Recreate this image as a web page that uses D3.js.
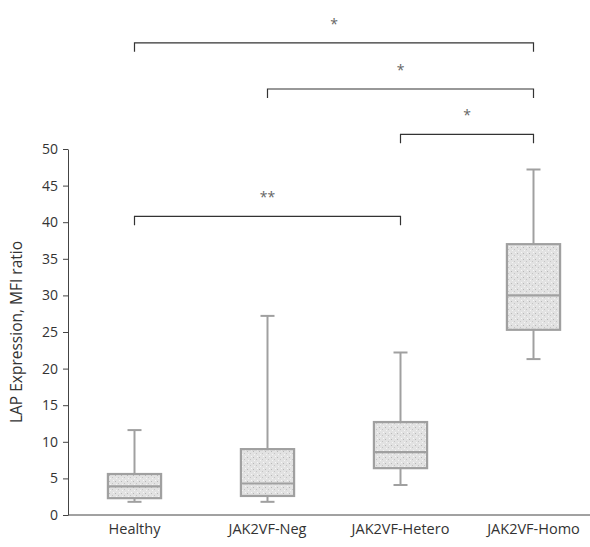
<!DOCTYPE html>
<html>
<head>
<meta charset="utf-8">
<script src="https://cdn.jsdelivr.net/npm/d3@7"></script>
<style>
  body { margin: 0; background: #fff; }
  text { font-family: "Open Sans", "Liberation Sans", sans-serif; }
</style>
</head>
<body>
<script>
// groups and box stats
var groups = ["Healthy", "JAK2VF-Neg", "JAK2VF-Hetero", "JAK2VF-Homo"];
var mins    = [1.8, 1.8, 4.1, 21.3];
var q1s     = [2.3, 2.6, 6.4, 25.3];
var medians = [3.9, 4.3, 8.6, 30.0];
var q3s     = [5.6, 9.0, 12.7, 37.0];
var maxs    = [11.6, 27.2, 22.2, 47.2];
var yTicks  = [0, 5, 10, 15, 20, 25, 30, 35, 40, 45, 50];

// significance brackets: [from group, to group, label, level in data units]
var sigFrom   = [0, 1, 2, 0];
var sigTo     = [3, 3, 3, 2];
var sigLabel  = ["*", "*", "*", "**"];
var sigLevel  = [64.5, 58.2, 52.0, 40.8];

var width = 590, height = 547;

var svg = d3.select("body")
    .append("svg")
    .attr("width", width)
    .attr("height", height);

// light stipple for the boxes
var pat = svg.append("defs").append("pattern")
    .attr("id", "stipple")
    .attr("patternUnits", "userSpaceOnUse")
    .attr("width", 6)
    .attr("height", 6);
pat.append("rect").attr("width", 6).attr("height", 6).attr("fill", "#e2e2e2");
pat.append("rect").attr("x", 1).attr("y", 1).attr("width", 1).attr("height", 1).attr("fill", "#b8b8b8");
pat.append("rect").attr("x", 4).attr("y", 3).attr("width", 1).attr("height", 1).attr("fill", "#c4c4c4");
pat.append("rect").attr("x", 2).attr("y", 4).attr("width", 1).attr("height", 1).attr("fill", "#f4f4f4");
pat.append("rect").attr("x", 5).attr("y", 0).attr("width", 1).attr("height", 1).attr("fill", "#f6f6f6");

var x = d3.scaleBand()
    .domain(groups)
    .range([68, 600])
    .paddingInner(0.6)
    .paddingOuter(0.3);

var y = d3.scaleLinear()
    .domain([0, 50])
    .range([515, 149]);

// y axis
var yAxis = svg.append("g")
    .attr("transform", "translate(68,0)")
    .call(d3.axisLeft(y).tickValues(yTicks).tickSize(5).tickSizeOuter(0).tickPadding(5));
yAxis.select(".domain").attr("stroke", "#444");
yAxis.selectAll(".tick line").attr("stroke", "#444");
yAxis.selectAll(".tick text")
    .attr("font-size", 14)
    .attr("fill", "#333")
    .attr("font-family", "'Open Sans', sans-serif");

// x axis
var xAxis = svg.append("g")
    .attr("transform", "translate(0,515)")
    .call(d3.axisBottom(x).tickSize(0).tickSizeOuter(0).tickPadding(9));
xAxis.select(".domain").attr("d", "M68,0H590").attr("stroke", "#444");
xAxis.selectAll(".tick text")
    .attr("font-size", 14.5)
    .attr("fill", "#333")
    .attr("font-family", "'Open Sans', sans-serif");

svg.append("text")
    .attr("transform", "translate(22," + y(25) + ") rotate(-90)")
    .attr("text-anchor", "middle")
    .attr("font-size", 15.5)
    .attr("fill", "#333")
    .text("LAP Expression, MFI ratio");

var boxColor = "#a0a0a0";
var bw = x.bandwidth();
var boxes = svg.selectAll(".box")
    .data(groups)
    .enter()
    .append("g")
    .attr("class", "box");

// whiskers
boxes.append("line")
    .attr("x1", function (d) { return x(d) + bw / 2; })
    .attr("x2", function (d) { return x(d) + bw / 2; })
    .attr("y1", function (d, i) { return y(maxs[i]); })
    .attr("y2", function (d, i) { return y(mins[i]); })
    .attr("stroke", boxColor)
    .attr("stroke-width", 2);

boxes.append("line")
    .attr("x1", function (d) { return x(d) + bw / 2 - 7; })
    .attr("x2", function (d) { return x(d) + bw / 2 + 7; })
    .attr("y1", function (d, i) { return y(maxs[i]); })
    .attr("y2", function (d, i) { return y(maxs[i]); })
    .attr("stroke", boxColor)
    .attr("stroke-width", 2);

boxes.append("line")
    .attr("x1", function (d) { return x(d) + bw / 2 - 7; })
    .attr("x2", function (d) { return x(d) + bw / 2 + 7; })
    .attr("y1", function (d, i) { return y(mins[i]); })
    .attr("y2", function (d, i) { return y(mins[i]); })
    .attr("stroke", boxColor)
    .attr("stroke-width", 2);

boxes.append("rect")
    .attr("x", function (d) { return x(d); })
    .attr("width", bw)
    .attr("y", function (d, i) { return y(q3s[i]); })
    .attr("height", function (d, i) { return y(q1s[i]) - y(q3s[i]); })
    .attr("fill", "url(#stipple)")
    .attr("stroke", boxColor)
    .attr("stroke-width", 2.2);

boxes.append("line")
    .attr("x1", function (d) { return x(d); })
    .attr("x2", function (d) { return x(d) + bw; })
    .attr("y1", function (d, i) { return y(medians[i]); })
    .attr("y2", function (d, i) { return y(medians[i]); })
    .attr("stroke", boxColor)
    .attr("stroke-width", 2.2);

// significance brackets
var sig = svg.selectAll(".sig")
    .data(sigLabel)
    .enter()
    .append("g")
    .attr("class", "sig");

sig.append("path")
    .attr("d", function (d, i) {
        var x1 = x(groups[sigFrom[i]]) + bw / 2;
        var x2 = x(groups[sigTo[i]]) + bw / 2;
        var yy = y(sigLevel[i]);
        return "M" + x1 + "," + (yy + 9) + "V" + yy + "H" + x2 + "V" + (yy + 9);
    })
    .attr("fill", "none")
    .attr("stroke", "#333")
    .attr("stroke-width", 1.2);

sig.append("text")
    .attr("x", function (d, i) {
        var x1 = x(groups[sigFrom[i]]) + bw / 2;
        var x2 = x(groups[sigTo[i]]) + bw / 2;
        return (x1 + x2) / 2;
    })
    .attr("y", function (d, i) { return y(sigLevel[i]) - 14; })
    .attr("text-anchor", "middle")
    .attr("font-size", 14)
    .attr("fill", "#666")
    .text(function (d) { return d; });
</script>
</body>
</html>
